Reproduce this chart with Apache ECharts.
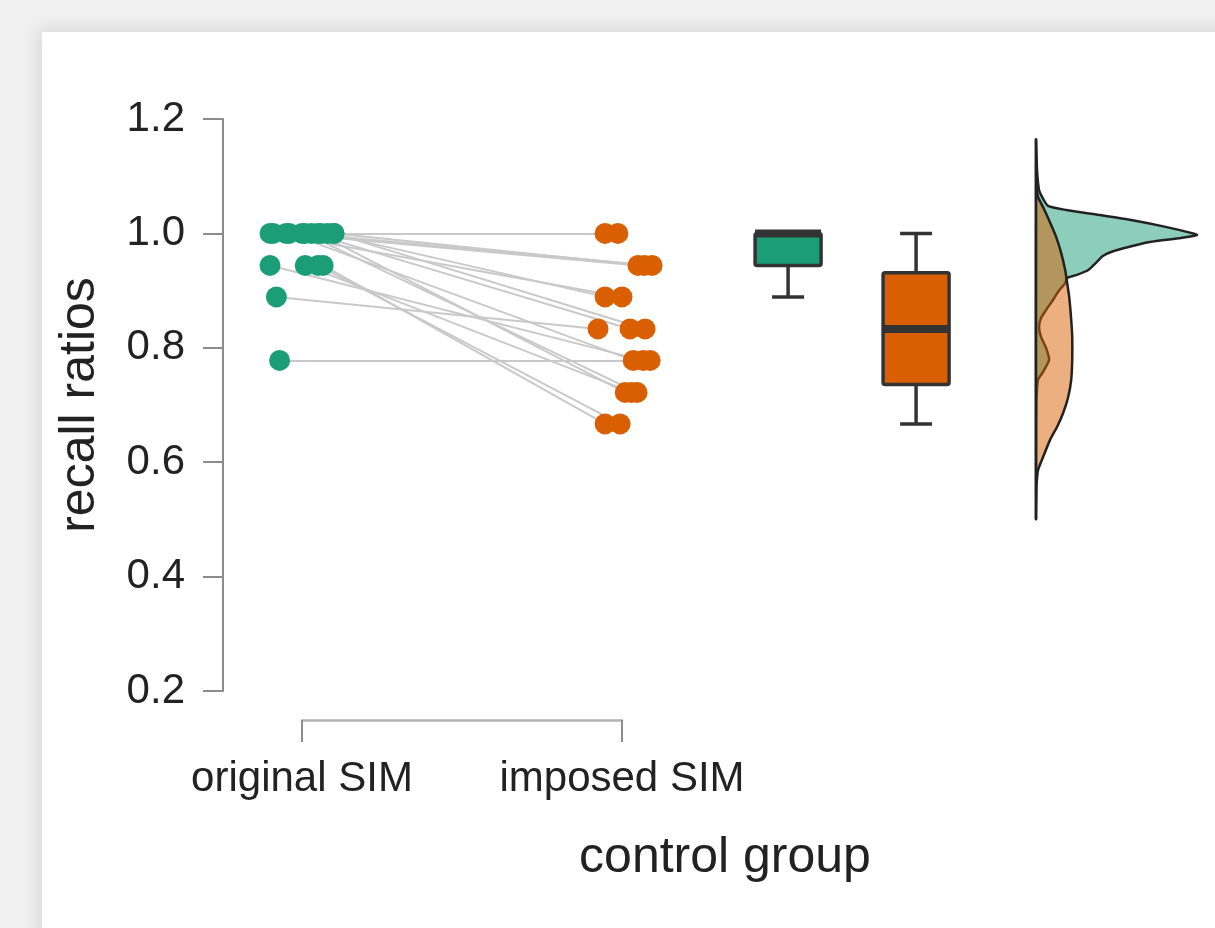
<!DOCTYPE html>
<html>
<head>
<meta charset="utf-8">
<script src="https://cdn.jsdelivr.net/npm/echarts@6/dist/echarts.min.js"></script>
<style>
  html, body { margin: 0; padding: 0; background: #f1f1f1; overflow: hidden; }
  #card {
    position: absolute; left: 42px; top: 32px; width: 1300px; height: 1000px;
    background: #fff; box-shadow: 0 0 18px 4px rgba(0, 0, 0, 0.10);
  }
  #main { position: absolute; left: 0; top: 0; width: 1215px; height: 928px; }
</style>
</head>
<body>
<div id="card"></div>
<div id="main"></div>
<script>
// conditions on the x axis
const categories = ["original SIM", "imposed SIM"];

// recall ratio per participant (same order in both arrays)
const originalRatio = [1, 1, 1, 1, 1, 1, 1, 1, 1, 1, 1, 1, 0.944, 0.944, 0.944, 0.944, 0.889, 0.778];
const imposedRatio = [1, 1, 0.944, 0.944, 0.944, 0.889, 0.889, 0.833, 0.833, 0.778, 0.722, 0.722, 0.778, 0.722, 0.667, 0.667, 0.833, 0.778];

// horizontal jitter of each dot, in condition units
const originalJitter = [-0.1, 0.06, -0.05, 0.1, 0.0, 0.08, -0.09, 0.03, 0.1, -0.04, 0.05, 0.01, -0.1, 0.01, 0.066, 0.05, -0.08, -0.07];
const imposedJitter = [-0.053, -0.013, 0.05, 0.07, 0.094, -0.053, 0.0, 0.025, 0.072, 0.035, 0.01, 0.047, 0.066, 0.03, -0.053, -0.006, -0.075, 0.088];

// boxplot stats: [min, Q1, median, Q3, max]
const boxOriginal = [0.889, 0.944, 1.0, 1.0, 1.0];
const boxImposed = [0.667, 0.736, 0.833, 0.931, 1.0];

// half-violin densities: recall ratio and density height
const densityLevels = [1.163, 1.111, 1.076, 1.064, 1.048, 1.041, 1.032, 1.023, 1.011, 1.0, 0.997, 0.992, 0.985, 0.974, 0.967, 0.96, 0.953, 0.946, 0.936, 0.927, 0.922, 0.913, 0.898, 0.884, 0.866, 0.852, 0.836, 0.819, 0.8, 0.779, 0.758, 0.744, 0.709, 0.621, 0.502];
const densityOriginal = [0, 0.1, 0.3, 0.6, 1.2, 3.0, 6.4, 9.6, 13.0, 15.6, 16.0, 14.4, 11.3, 8.7, 7.4, 6.6, 6.2, 5.8, 5.2, 4.0, 3.1, 2.9, 2.2, 1.7, 1.0, 0.5, 0.3, 0.5, 1.0, 1.3, 0.7, 0.2, 0.05, 0.02, 0];
const densityImposedLevels = [1.163, 1.111, 1.081, 1.064, 1.046, 1.023, 0.994, 0.966, 0.936, 0.913, 0.889, 0.849, 0.819, 0.779, 0.744, 0.714, 0.686, 0.662, 0.639, 0.609, 0.586, 0.557, 0.502];
const densityImposed = [0, 0.03, 0.05, 0.2, 0.7, 1.3, 2.0, 2.5, 2.9, 3.1, 3.3, 3.5, 3.6, 3.6, 3.5, 3.2, 2.7, 2.1, 1.4, 0.7, 0.2, 0.05, 0];

const GREEN = "#1b9e77";
const ORANGE = "#d95f02";
const FONT = "'Liberation Sans', Arial, Helvetica, sans-serif";

const chart = echarts.init(document.getElementById("main"));

function boxRenderer(fill) {
  return function (params, api) {
    const x = api.value(0);
    const lo = api.coord([x, api.value(1)]);
    const q1 = api.coord([x, api.value(2)]);
    const md = api.coord([x, api.value(3)]);
    const q3 = api.coord([x, api.value(4)]);
    const hi = api.coord([x, api.value(5)]);
    const w = 66, cap = 32, cx = lo[0];
    const line = { stroke: "#333", lineWidth: 3.5 };
    return {
      type: "group",
      children: [
        { type: "line", shape: { x1: cx, y1: q3[1], x2: cx, y2: hi[1] }, style: line },
        { type: "line", shape: { x1: cx, y1: q1[1], x2: cx, y2: lo[1] }, style: line },
        { type: "line", shape: { x1: cx - cap / 2, y1: hi[1], x2: cx + cap / 2, y2: hi[1] }, style: line },
        { type: "line", shape: { x1: cx - cap / 2, y1: lo[1], x2: cx + cap / 2, y2: lo[1] }, style: line },
        {
          type: "rect",
          shape: { x: cx - w / 2, y: q3[1], width: w, height: q1[1] - q3[1], r: 2 },
          style: { fill: fill, stroke: "#333", lineWidth: 3.5 },
        },
        { type: "line", shape: { x1: cx - w / 2, y1: md[1], x2: cx + w / 2, y2: md[1] }, style: { stroke: "#333", lineWidth: 8 } },
      ],
    };
  };
}

function densityRenderer(levels, dens, fill) {
  return function (params, api) {
    const pts = levels.map((v, i) => api.coord([dens[i], v]));
    return {
      type: "polygon",
      shape: { points: pts, smooth: 0.2 },
      style: { fill: fill, stroke: "#222", lineWidth: 2.5 },
    };
  };
}

chart.setOption({
  animation: false,
  textStyle: { fontFamily: FONT },
  grid: [
    { left: 223, top: 119, width: 1004, bottom: 237, outerBoundsMode: "none", containLabel: false },
    { left: 302, top: 119, width: 320, bottom: 208, outerBoundsMode: "none", containLabel: false },
    { left: 1036, top: 119, width: 171, bottom: 237, outerBoundsMode: "none", containLabel: false },
  ],
  xAxis: [
    {
      gridIndex: 0, type: "value", min: 0.753125, max: 3.890625,
      axisLine: { show: false }, axisTick: { show: false }, axisLabel: { show: false }, splitLine: { show: false },
      name: "control group", nameLocation: "middle", nameGap: 142,
      nameTextStyle: { fontSize: 50, color: "#222", fontFamily: FONT },
    },
    {
      gridIndex: 1, type: "category", data: categories, boundaryGap: false,
      axisLine: { lineStyle: { color: "#b3b3b3", width: 2.5 } },
      axisTick: { length: 22, lineStyle: { color: "#8c8c8c", width: 2 } },
      axisLabel: { fontSize: 42, color: "#222", margin: 38, fontFamily: FONT },
      splitLine: { show: false },
    },
    { gridIndex: 2, type: "value", min: 0, max: 17, show: false },
  ],
  yAxis: [
    {
      gridIndex: 0, type: "value", min: 0.2, max: 1.2, interval: 0.2,
      axisLine: { show: true, lineStyle: { color: "#8c8c8c", width: 2 } },
      axisTick: { show: true, length: 20, lineStyle: { color: "#8c8c8c", width: 2 } },
      axisLabel: { fontSize: 42, color: "#222", margin: 38, fontFamily: FONT, formatter: (v) => v.toFixed(1) },
      splitLine: { show: false },
      name: "recall ratios", nameLocation: "middle", nameRotate: 90, nameGap: 118,
      nameTextStyle: { fontSize: 50, color: "#222", fontFamily: FONT },
    },
    { gridIndex: 1, type: "value", min: 0.2, max: 1.2, show: false },
    { gridIndex: 2, type: "value", min: 0.2, max: 1.2, show: false },
  ],
  series: [
    {
      type: "lines", coordinateSystem: "cartesian2d", xAxisIndex: 0, yAxisIndex: 0,
      lineStyle: { color: "#c9c9c9", width: 2, opacity: 1 },
      silent: true,
      data: originalRatio.map((v, i) => ({
        coords: [[1 + originalJitter[i], v], [2 + imposedJitter[i], imposedRatio[i]]],
      })),
    },
    {
      type: "scatter", xAxisIndex: 0, yAxisIndex: 0, symbolSize: 21,
      itemStyle: { color: GREEN, opacity: 1 },
      data: originalRatio.map((v, i) => [1 + originalJitter[i], v]),
    },
    {
      type: "scatter", xAxisIndex: 0, yAxisIndex: 0, symbolSize: 21,
      itemStyle: { color: ORANGE, opacity: 1 },
      data: imposedRatio.map((v, i) => [2 + imposedJitter[i], v]),
    },
    {
      type: "custom", xAxisIndex: 0, yAxisIndex: 0, clip: false,
      renderItem: boxRenderer(GREEN),
      data: [[2.519].concat(boxOriginal)],
    },
    {
      type: "custom", xAxisIndex: 0, yAxisIndex: 0, clip: false,
      renderItem: boxRenderer(ORANGE),
      data: [[2.919].concat(boxImposed)],
    },
    {
      type: "custom", xAxisIndex: 2, yAxisIndex: 2, clip: false,
      renderItem: densityRenderer(densityLevels, densityOriginal, "rgba(27,158,119,0.5)"),
      data: [[0, 1]],
    },
    {
      type: "custom", xAxisIndex: 2, yAxisIndex: 2, clip: false,
      renderItem: densityRenderer(densityImposedLevels, densityImposed, "rgba(217,95,2,0.5)"),
      data: [[0, 1]],
    },
  ],
});
</script>
</body>
</html>
